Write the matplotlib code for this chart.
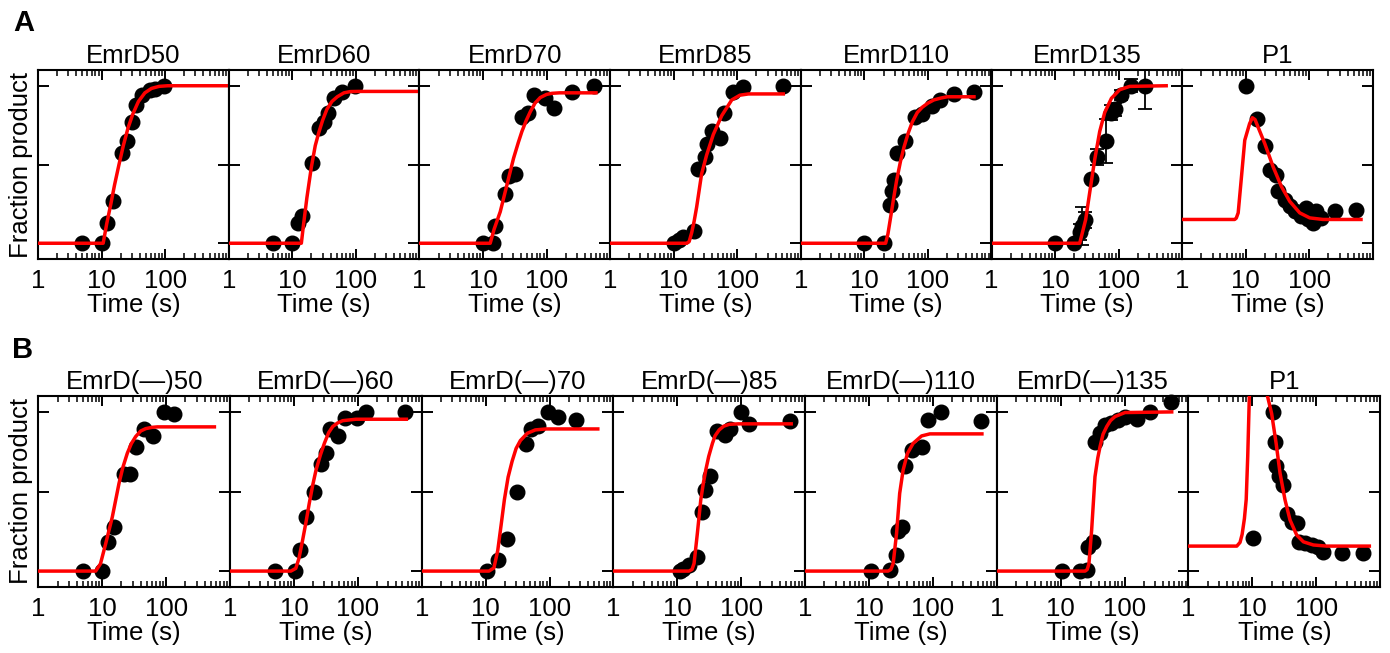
"""Fraction product vs time panels (EmrD constructs and P1)."""
import matplotlib.pyplot as plt
from matplotlib.ticker import FixedLocator, FixedFormatter, LogLocator, NullFormatter

plt.rcParams['font.family'] = ['Liberation Sans', 'DejaVu Sans']

# ---- row A ----
titles_a = ["EmrD50", "EmrD60", "EmrD70", "EmrD85", "EmrD110", "EmrD135", "P1"]

times_a = [
    [5, 10, 12, 15, 21, 25, 30, 35, 43, 58, 70, 95],
    [5, 10, 12.5, 14, 20.5, 26, 31, 36, 45, 60, 97],
    [10, 14.5, 15.5, 22, 25.5, 32, 41, 52, 63, 95, 129, 251, 550],
    [10, 12, 14, 21, 24, 31, 34, 39.5, 53, 62, 87, 125, 530],
    [10, 20, 25.3, 27, 29.3, 33, 43.6, 62, 82, 117, 155, 257, 530],
    [10, 20, 24.5, 27, 30, 37, 45, 63, 77, 87, 110, 159, 257],
    [10, 15.1, 19.9, 23.9, 29.6, 32.2, 41, 49.2, 58.9, 75, 90, 95.5, 114.6, 129, 155, 251, 537],
]
frac_a = [
    [0, 0, 0.13, 0.27, 0.57, 0.65, 0.77, 0.88, 0.94, 0.97, 0.98, 1.0],
    [0, 0, 0.13, 0.17, 0.51, 0.73, 0.77, 0.83, 0.92, 0.96, 1.0],
    [0, 0, 0.11, 0.31, 0.43, 0.44, 0.80, 0.83, 0.94, 0.92, 0.86, 0.96, 1.0],
    [0, 0.02, 0.04, 0.08, 0.47, 0.55, 0.63, 0.71, 0.67, 0.83, 0.96, 0.99, 1.0],
    [0, 0, 0.245, 0.33, 0.40, 0.57, 0.65, 0.80, 0.82, 0.87, 0.91, 0.95, 0.96],
    [0, 0, 0.07, 0.11, 0.15, 0.41, 0.55, 0.65, 0.83, 0.85, 0.94, 1.0, 1.0],
    [1.0, 0.79, 0.62, 0.465, 0.434, 0.33, 0.277, 0.235, 0.203, 0.172, 0.224, 0.151, 0.13,
     0.203, 0.161, 0.203, 0.214],
]
# error bars only on EmrD135
err_emrd135 = [0, 0, 0.05, 0.12, 0.05, 0, 0.05, 0.14, 0.05, 0.04, 0.03, 0.04, 0.15]

fit_t_a = [
    [1, 10.6, 12, 14, 16, 18.8, 22, 26, 31, 38, 48, 61, 80, 110, 1000],
    [1, 13.9, 15, 17, 19.9, 23, 26, 30, 35, 42, 51, 65, 82, 110, 1000],
    [1, 13, 15, 18.7, 23.8, 30.3, 36, 41, 48, 55.5, 66, 79.6, 100, 122, 160, 600],
    [1, 16, 17.5, 19.2, 21, 23, 27.5, 33, 42, 57, 82, 110, 150, 530],
    [1, 21.6, 23.5, 26, 29, 32.2, 37, 42, 49, 56.8, 68, 81.6, 100, 124, 160, 201, 530],
    [1, 24.4, 27, 30.3, 35, 42, 50.4, 60.4, 76.9, 104, 149, 560],
    [1, 6.7, 7.1, 7.6, 8.55, 9.64, 11.5, 12.7, 14, 15.6, 19.9, 26.9, 36.4, 49.2, 70.6,
     101.5, 164, 650],
]
fit_y_a = [
    [0, 0, 0.12, 0.25, 0.37, 0.5, 0.62, 0.73, 0.82, 0.9, 0.955, 0.983, 0.996, 1.0, 1.0],
    [0, 0, 0.115, 0.29, 0.48, 0.62, 0.70, 0.78, 0.85, 0.90, 0.93, 0.955, 0.963, 0.964, 0.964],
    [0, 0, 0.09, 0.2, 0.37, 0.54, 0.64, 0.71, 0.78, 0.835, 0.89, 0.925, 0.945, 0.952, 0.955,
     0.955],
    [0, 0, 0.01, 0.067, 0.14, 0.23, 0.44, 0.56, 0.69, 0.81, 0.91, 0.94, 0.948, 0.948],
    [0, 0, 0.06, 0.17, 0.29, 0.40, 0.52, 0.61, 0.70, 0.77, 0.83, 0.864, 0.89, 0.91, 0.922,
     0.93, 0.93],
    [0, 0, 0.07, 0.15, 0.32, 0.53, 0.71, 0.83, 0.92, 0.975, 0.996, 1.0],
    [0.151, 0.151, 0.16, 0.193, 0.42, 0.654, 0.76, 0.797, 0.785, 0.738, 0.633, 0.486, 0.36,
     0.266, 0.193, 0.161, 0.151, 0.151],
]

# ---- row B ----
titles_b = ["EmrD(\u2014)50", "EmrD(\u2014)60", "EmrD(\u2014)70", "EmrD(\u2014)85",
            "EmrD(\u2014)110", "EmrD(\u2014)135", "P1"]

times_b = [
    [5, 10, 12.4, 15.2, 21.9, 26.9, 33.4, 45.2, 62.7, 93, 134],
    [5, 10.5, 12.6, 15.5, 20.4, 26.6, 31.9, 37.2, 48.6, 63.4, 97.7, 135.5, 556],
    [10.6, 15.8, 21.9, 31.5, 42.5, 51, 64.9, 93.3, 134, 260],
    [10.9, 12.5, 15.2, 20.6, 24.2, 27.2, 32.2, 42.5, 56, 66.5, 99, 134, 570],
    [10.6, 21.2, 26, 28.6, 33, 36.4, 46.3, 66.5, 84.7, 134, 570],
    [10.4, 20.1, 25.5, 27.1, 32.4, 34.4, 41.3, 49.4, 61.4, 79.8, 101.6, 154.5, 250, 533],
    [10.1, 21.3, 22.6, 23.5, 26.5, 30.5, 34.5, 41.2, 49.4, 54.4, 66.6, 84.8, 107.9, 129,
     248, 531],
]
frac_b = [
    [0, 0, 0.18, 0.28, 0.61, 0.61, 0.78, 0.895, 0.85, 1.0, 0.99],
    [0, 0, 0.13, 0.34, 0.50, 0.67, 0.74, 0.89, 0.85, 0.96, 0.96, 1.0, 1.0],
    [0, 0.07, 0.20, 0.50, 0.80, 0.89, 0.91, 1.0, 0.97, 0.95],
    [0, 0.01, 0.04, 0.09, 0.37, 0.51, 0.60, 0.88, 0.855, 0.89, 1.0, 0.925, 0.94],
    [0, 0.006, 0.10, 0.25, 0.28, 0.66, 0.76, 0.78, 0.95, 1.0, 0.94],
    [0, 0, 0.006, 0.15, 0.18, 0.81, 0.87, 0.92, 0.93, 0.95, 0.97, 0.955, 1.0, 1.065],
    [0.205, 1.0, 0.81, 0.66, 0.60, 0.54, 0.36, 0.31, 0.30, 0.185, 0.174, 0.164, 0.149, 0.12,
     0.115, 0.111],
]

fit_t_b = [
    [1, 7.9, 9.4, 11.3, 14.4, 18.3, 21, 24.7, 28.5, 33.4, 40, 48, 60, 73, 570],
    [1, 8.97, 10.7, 12, 13.7, 15.5, 17.4, 19.7, 22.2, 26, 30, 35, 40.5, 48, 58, 93.5, 576],
    [1, 11.3, 13.5, 15.5, 17.5, 19.7, 22.5, 26, 30, 35, 45, 60, 88, 570],
    [1, 15.2, 17, 18.3, 20.6, 23.3, 25.5, 27.9, 31, 35.5, 39, 45.2, 53, 64.9, 90, 606],
    [1, 19.9, 22, 23.9, 27, 30.2, 34.2, 40, 49.2, 66.5, 89.5, 585],
    [1, 24.1, 26, 27.7, 30.5, 34.4, 38, 41.3, 46, 52.5, 60, 70.8, 101.6, 546],
    [1, 5.7, 6.4, 6.9, 7.5, 8.0, 8.45, 8.97, 9.5, 16.2, 16.8, 20, 23.5, 27.1, 32.4, 38.8,
     49.4, 62.8, 90, 145, 676],
]
fit_y_b = [
    [0, 0, 0.046, 0.17, 0.34, 0.55, 0.65, 0.74, 0.8, 0.845, 0.88, 0.895, 0.903, 0.906, 0.906],
    [0, 0, 0.017, 0.08, 0.195, 0.31, 0.426, 0.54, 0.635, 0.73, 0.803, 0.87, 0.908, 0.93,
     0.945, 0.954, 0.954],
    [0, 0, 0.02, 0.13, 0.29, 0.45, 0.59, 0.69, 0.77, 0.82, 0.866, 0.887, 0.893, 0.893],
    [0, 0, 0.01, 0.048, 0.237, 0.447, 0.55, 0.635, 0.72, 0.803, 0.85, 0.887, 0.91, 0.922,
     0.925, 0.925],
    [0, 0, 0.01, 0.048, 0.237, 0.488, 0.635, 0.74, 0.803, 0.849, 0.862, 0.862],
    [0, 0, 0.01, 0.048, 0.258, 0.593, 0.71, 0.782, 0.86, 0.908, 0.945, 0.971, 0.996, 1.0],
    [0.157, 0.157, 0.18, 0.23, 0.33, 0.45, 0.72, 1.107, 1.5, 1.5, 1.117, 0.99, 0.803, 0.614,
     0.447, 0.321, 0.226, 0.184, 0.164, 0.157, 0.157],
]

FS = 18.5


def style_axis(ax):
    ax.set_xscale('log')
    ax.set_xlim(1, 1000)
    ax.set_ylim(-0.1, 1.1)
    ax.xaxis.set_major_locator(FixedLocator([1, 10, 100, 1000]))
    ax.xaxis.set_major_formatter(FixedFormatter(['1', '10', '100', '']))
    ax.xaxis.set_minor_locator(LogLocator(base=10, subs=range(2, 10), numticks=12))
    ax.xaxis.set_minor_formatter(NullFormatter())
    ax.set_yticks([0, 0.5, 1])
    ax.tick_params(axis='y', which='both', direction='in', left=True, right=True,
                   labelleft=False, length=8, width=1.4)
    ax.tick_params(axis='x', which='major', direction='in', top=True, bottom=True,
                   length=7, width=1.4, labelsize=FS, pad=7)
    ax.tick_params(axis='x', which='minor', direction='in', top=True, bottom=True,
                   length=4, width=1.1)
    for spine in ax.spines.values():
        spine.set_linewidth(1.5)


fig = plt.figure(figsize=(13.9, 6.53), dpi=100)
W, H = 1390, 653

rows = [
    (titles_a, times_a, frac_a, fit_t_a, fit_y_a, 38.0, 190.7, 259, 189),
    (titles_b, times_b, frac_b, fit_t_b, fit_y_b, 38.3, 191.7, 587, 191),
]
for r, (titles, times, fracs, fts, fys, x0, pw, ybot, ph) in enumerate(rows):
    for k in range(7):
        ax = fig.add_axes([(x0 + pw * k) / W, (H - ybot) / H, pw / W, ph / H])
        style_axis(ax)
        if r == 0 and k == 5:
            ax.errorbar(times[k], fracs[k], yerr=err_emrd135, fmt='o', color='k', ms=10.5,
                        capsize=5, elinewidth=1.3, capthick=1.3, zorder=2)
        else:
            ax.plot(times[k], fracs[k], 'o', color='k', ms=10.5, clip_on=False, zorder=2)
        ax.plot(fts[k], fys[k], '-', color='#ff0000', lw=2.5, zorder=3)
        ax.set_title(titles[k], fontsize=FS, pad=5)
        ax.set_xlabel("Time (s)", fontsize=FS, labelpad=0)
        if k == 0:
            ax.set_ylabel("Fraction product", fontsize=FS, labelpad=3.5)

fig.text(13 / W, 1 - 31 / H, "A", fontsize=21, fontweight='bold', va='baseline')
fig.text(12 / W, 1 - 358 / H, "B", fontsize=21, fontweight='bold', va='baseline')

fig.savefig("out.png", dpi=100)
